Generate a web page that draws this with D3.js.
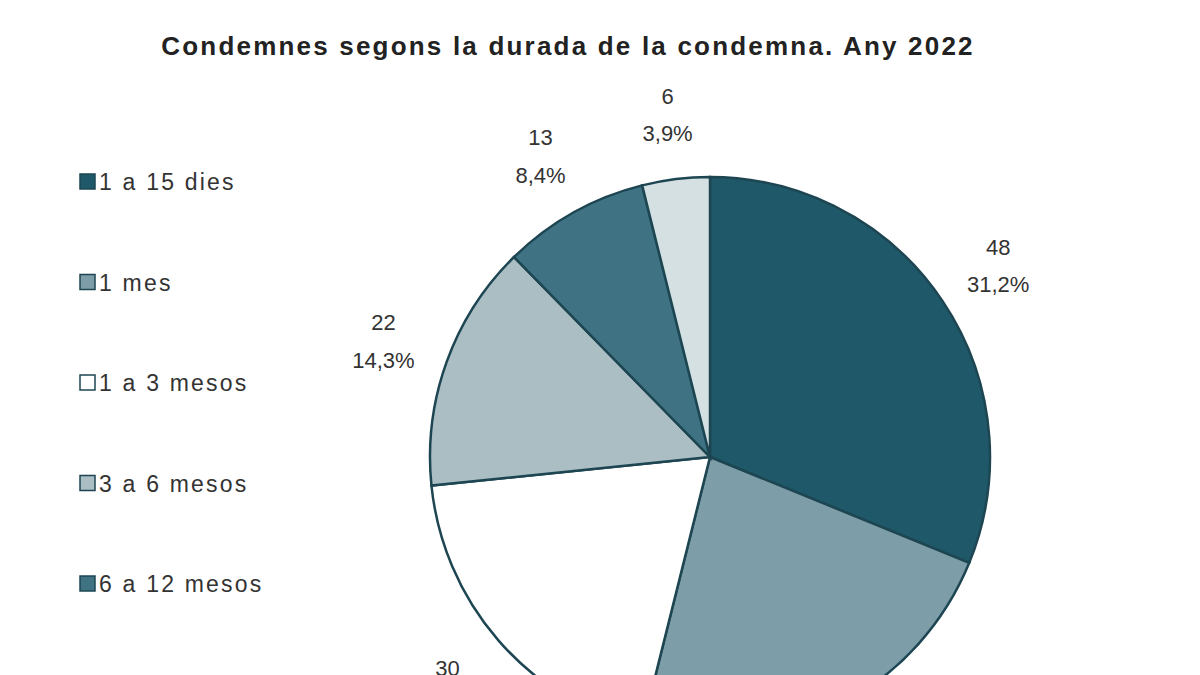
<!DOCTYPE html><html><head><meta charset="utf-8">
<script src="https://cdn.jsdelivr.net/npm/d3@7"></script>
<style>body{margin:0;background:#fff}</style></head><body><svg id="c" width="1200" height="675"></svg>
<script>
const categories=["1 a 15 dies","1 mes","1 a 3 mesos","3 a 6 mesos","6 a 12 mesos","Més d'1 any"];
const values=[48,35,30,22,13,6];
const percents=["31,2%","22,7%","19,5%","14,3%","8,4%","3,9%"];
const colors=["#1f5868","#7d9ea8","#ffffff","#abbec4","#3f7383","#d5e0e3"];
const svg=d3.select("#c");
svg.append("text").attr("x",568).attr("y",55).attr("text-anchor","middle")
 .attr("font-family","Liberation Sans, Arial").attr("font-weight","bold").attr("font-size",26).attr("letter-spacing",2.2).attr("fill","#222")
 .text("Condemnes segons la durada de la condemna. Any 2022");
const cx=710,cy=457,r=280;
const pie=d3.pie().sort(null).value(d=>d)(values);
const arc=d3.arc().innerRadius(0).outerRadius(r);
const lab=d3.arc().innerRadius(r*1.24).outerRadius(r*1.24);
const g=svg.append("g").attr("transform",`translate(${cx},${cy})`);
g.selectAll("path").data(pie).join("path").attr("d",arc).attr("fill",(d,i)=>colors[i])
 .attr("stroke","#1d4652").attr("stroke-width",2.5);
const t=g.selectAll("text").data(pie).join("text").attr("text-anchor","middle")
 .attr("font-family","Liberation Sans, Arial").attr("font-size",22).attr("fill","#333")
 .attr("transform",d=>`translate(${lab.centroid(d)})`);
t.append("tspan").attr("x",0).attr("dy","-0.4em").text(d=>d.data);
t.append("tspan").attr("x",0).attr("dy","1.7em").text((d,i)=>percents[i]);
const lg=svg.append("g");
categories.forEach((c,i)=>{
 const y=182+i*100.5;
 lg.append("rect").attr("x",80).attr("y",y-8).attr("width",15).attr("height",15).attr("fill",colors[i]).attr("stroke","#1d4652").attr("stroke-width",1.5);
 lg.append("text").attr("x",99).attr("y",y+8).attr("font-family","Liberation Sans, Arial").attr("font-size",23).attr("fill","#333").attr("letter-spacing",2.2).text(c);
});
</script></body></html>
